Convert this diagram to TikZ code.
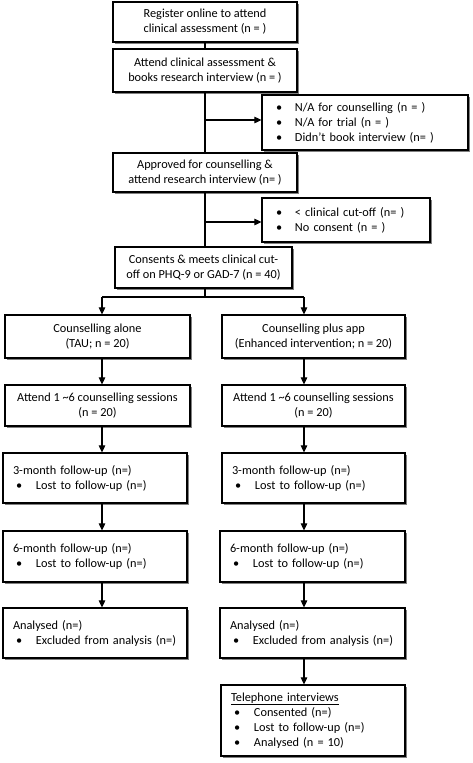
\documentclass[tikz,border=0pt]{standalone}
\usepackage{fontspec}
\setmainfont{Carlito}
\usetikzlibrary{arrows.meta,shadows}
\newcommand\bul[1]{\hspace*{3pt}\makebox[20pt][l]{\textbullet}#1}
\newcommand\sbul[1]{\makebox[19pt][l]{\textbullet}#1}
\tikzset{
  box/.style={draw=black, line width=1.2pt, fill=white,
    drop shadow={shadow xshift=1.6pt, shadow yshift=-1.6pt, fill=black!50, opacity=1},
    inner ysep=0pt, font=\fontsize{12.3}{15}\selectfont},
  cbox/.style={box, align=center, inner xsep=0pt},
  lbox/.style={box, align=left, inner xsep=10pt},
  sbox/.style={box, align=left, inner xsep=14pt},
  arr/.style={line width=1.1pt, -{Triangle[length=7pt,width=6.5pt]}},
  ln/.style={line width=1.1pt}
}
\begin{document}
\begin{tikzpicture}[x=1pt,y=-1pt]
\useasboundingbox (0,0) rectangle (473,763);
% main spine
\node[cbox, minimum width=184pt, minimum height=40pt] (b1) at (205,22) {Register online to attend\\clinical assessment (n = )};
\node[cbox, minimum width=184pt, minimum height=43pt] (b2) at (205,70.5) {Attend clinical assessment \&\\books research interview (n = )};
\node[sbox, minimum width=206pt, minimum height=55pt, text width=178pt] (s1) at (365,122.5) {\sbul{N/A for counselling (n = )}\\\sbul{N/A for trial (n = )}\\\sbul{Didn’t book interview (n= )}};
\node[cbox, minimum width=184pt, minimum height=39pt] (b3) at (205,172.5) {Approved for counselling \&\\attend research interview (n= )};
\node[sbox, minimum width=168pt, minimum height=44pt, text width=140pt] (s2) at (346,220) {\sbul{< clinical cut-off (n= )}\\\sbul{No consent (n = )}};
\node[cbox, minimum width=177pt, minimum height=41pt] (b4) at (203.5,267.5) {Consents \& meets clinical cut-\\off on PHQ-9 or GAD-7 (n = 40)};
% arms
\node[cbox, minimum width=185pt, minimum height=43pt] (l1) at (97.5,336.5) {Counselling alone\\(TAU; n = 20)};
\node[cbox, minimum width=183pt, minimum height=43pt] (r1) at (313.5,336.5) {Counselling plus app\\(Enhanced intervention; n = 20)};
\node[cbox, minimum width=185pt, minimum height=41pt] (l2) at (97.5,405.5) {Attend 1 \textasciitilde6 counselling sessions\\(n = 20)};
\node[cbox, minimum width=183pt, minimum height=41pt] (r2) at (313.5,405.5) {Attend 1 \textasciitilde6 counselling sessions\\(n = 20)};
\node[lbox, minimum width=184pt, minimum height=50pt, text width=164pt] (l3) at (95,478) {3-month follow-up (n=)\\\bul{Lost to follow-up (n=)}};
\node[lbox, minimum width=183pt, minimum height=50pt, text width=163pt] (r3) at (313.5,478) {3-month follow-up (n=)\\\bul{Lost to follow-up (n=)}};
\node[lbox, minimum width=184pt, minimum height=51pt, text width=164pt] (l4) at (95,556.5) {6-month follow-up (n=)\\\bul{Lost to follow-up (n=)}};
\node[lbox, minimum width=185pt, minimum height=51pt, text width=165pt] (r4) at (312.5,556.5) {6-month follow-up (n=)\\\bul{Lost to follow-up (n=)}};
\node[lbox, minimum width=184pt, minimum height=50pt, text width=164pt] (l5) at (95,633) {Analysed (n=)\\\bul{Excluded from analysis (n=)}};
\node[lbox, minimum width=185pt, minimum height=50pt, text width=165pt] (r5) at (312.5,633) {Analysed (n=)\\\bul{Excluded from analysis (n=)}};
\node[lbox, minimum width=184pt, minimum height=71pt, text width=164pt] (t) at (313,720.5) {\underline{Telephone interviews}\\\bul{Consented (n=)}\\\bul{Lost to follow-up (n=)}\\\bul{Analysed (n = 10)}};
% coordinates
\coordinate (sp) at (205,0);
\coordinate (cl) at (102,0);
\coordinate (cr) at (304,0);
\coordinate (ya) at (0,120);
\coordinate (yb) at (0,222);
\coordinate (ys) at (0,297);
% connectors
\draw[ln] (b1.south -| sp) -- (b2.north -| sp);
\draw[ln] (b2.south -| sp) -- (b3.north -| sp);
\draw[arr] (sp |- ya) -- (s1.west |- ya);
\draw[ln] (b3.south -| sp) -- (b4.north -| sp);
\draw[arr] (sp |- yb) -- (s2.west |- yb);
\draw[ln] (b4.south -| sp) -- (sp |- ys);
\draw[ln] (cl |- ys) -- (cr |- ys);
\draw[arr] (cl |- ys) -- (l1.north -| cl);
\draw[arr] (cr |- ys) -- (r1.north -| cr);
\draw[arr] (l1.south -| cl) -- (l2.north -| cl);
\draw[arr] (r1.south -| cr) -- (r2.north -| cr);
\draw[arr] (l2.south -| cl) -- (l3.north -| cl);
\draw[arr] (r2.south -| cr) -- (r3.north -| cr);
\draw[arr] (l3.south -| cl) -- (l4.north -| cl);
\draw[arr] (r3.south -| cr) -- (r4.north -| cr);
\draw[arr] (l4.south -| cl) -- (l5.north -| cl);
\draw[arr] (r4.south -| cr) -- (r5.north -| cr);
\draw[arr] (r5.south -| cr) -- (t.north -| cr);
\end{tikzpicture}
\end{document}
